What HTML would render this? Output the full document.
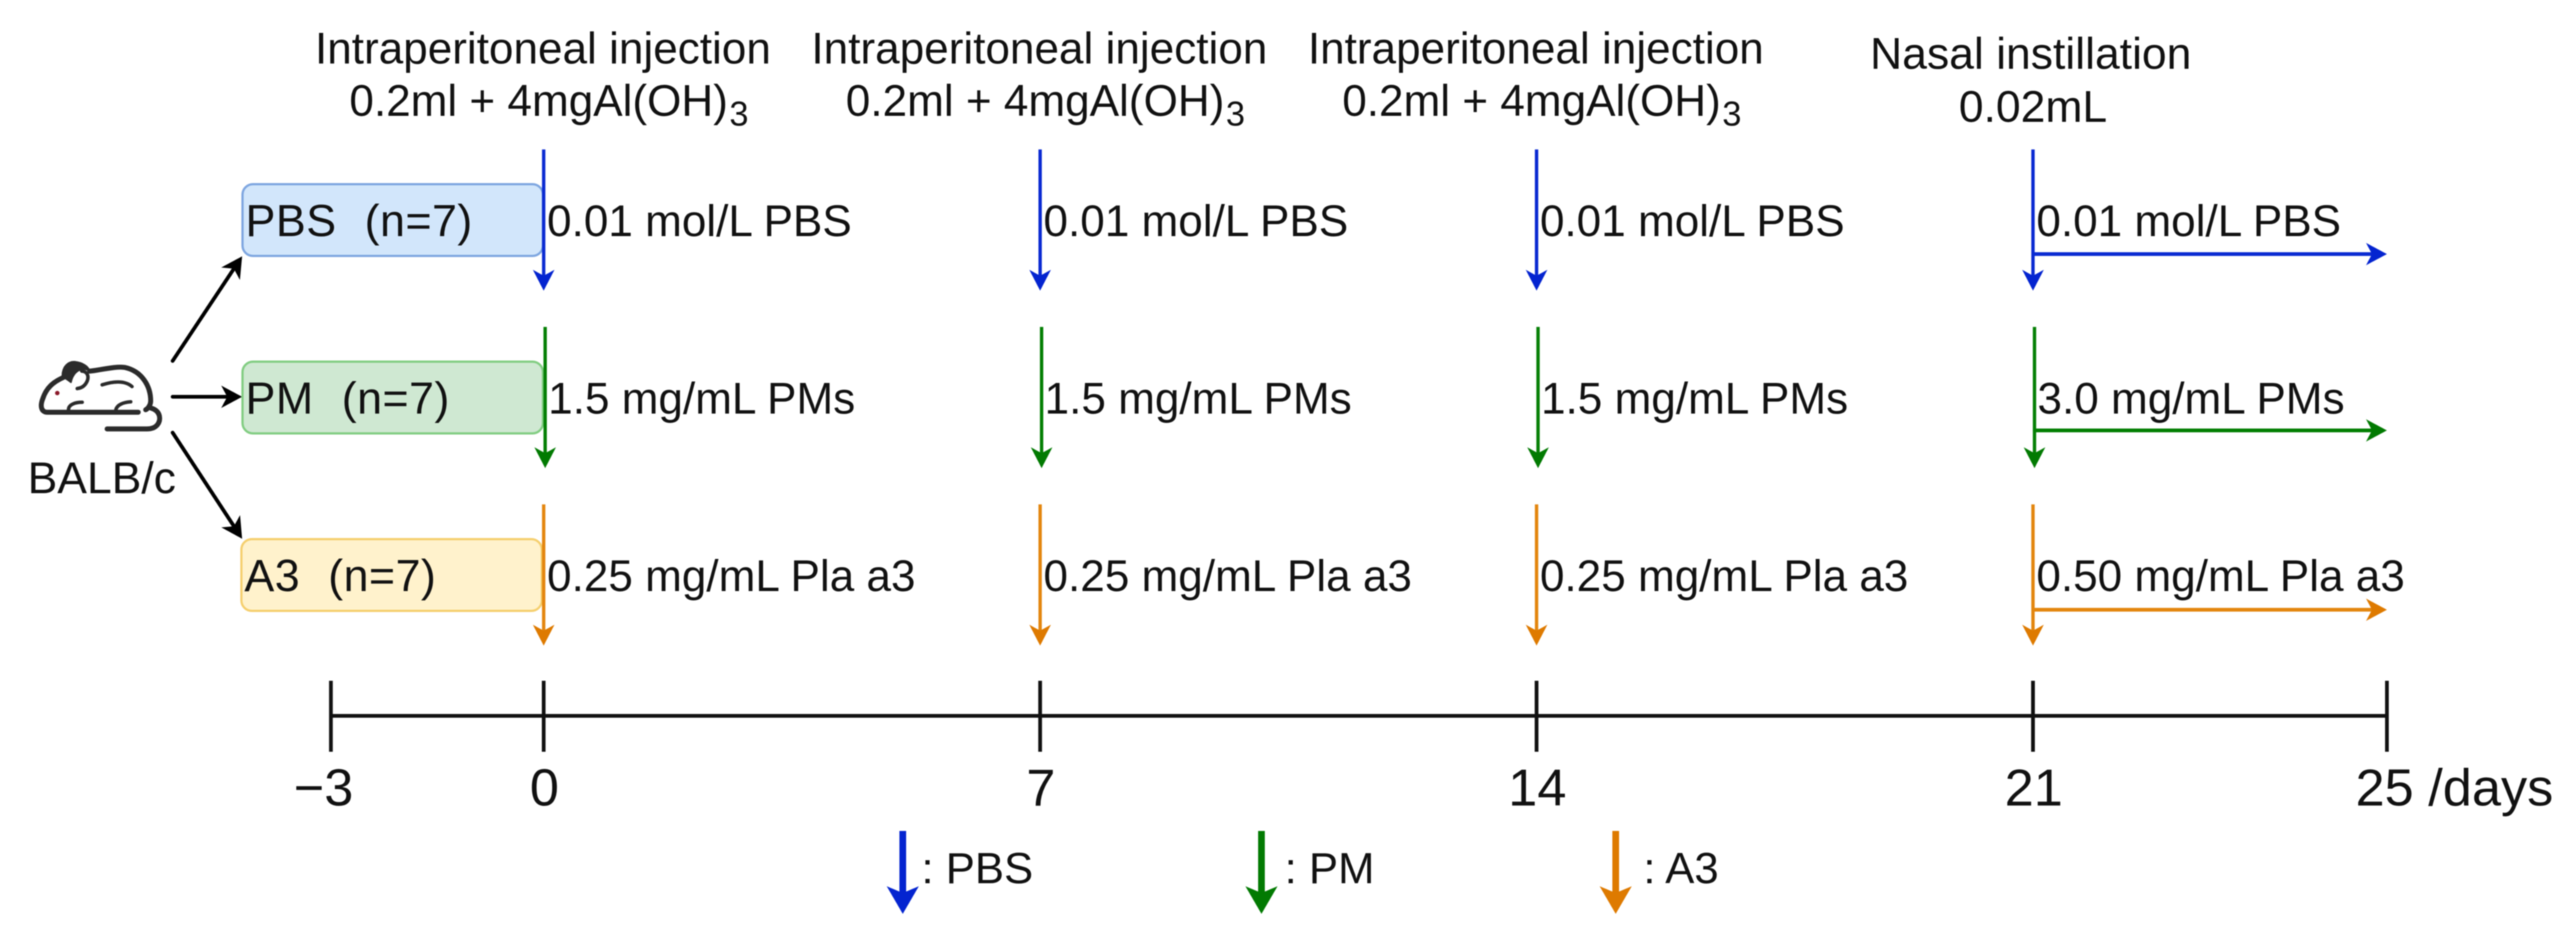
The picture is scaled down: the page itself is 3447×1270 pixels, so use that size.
<!DOCTYPE html>
<html lang="en">
<head>
<meta charset="utf-8">
<title>Experimental timeline</title>
<style>
  html, body { margin: 0; padding: 0; background: #fff; }
  svg { display: block; filter: blur(0.7px); }
  text { font-family: "Liberation Sans", Arial, sans-serif; fill: #111; white-space: pre; }
</style>
</head>
<body>
<svg id="chart" xmlns="http://www.w3.org/2000/svg" width="3447" height="1270" viewBox="0 0 3447 1270">
  <rect width="3447" height="1270" fill="#ffffff"/>

  <g transform="translate(20,440) scale(0.3333)" fill="none" stroke="#2b2b2b" stroke-width="20" stroke-linecap="round" stroke-linejoin="round">
    <path d="M495 335 L130 335 C105 335 100 310 112 280 C125 240 150 215 195 195"/>
    <path d="M300 170 C350 165 400 150 440 155 C510 170 545 230 545 290 C545 305 535 320 525 325"/>
    <path d="M370 402 L530 402 C570 402 585 375 580 350 C575 330 560 322 545 318"/>
    <path d="M190 190 C190 150 215 130 240 132 C270 135 295 150 300 170 C270 150 235 170 225 215 C205 200 195 195 190 190 Z" fill="#2b2b2b" stroke-width="6"/>
    <path d="M268 170 C290 170 298 190 290 210 C282 228 268 238 250 240" stroke-width="14"/>
    <path d="M350 225 C390 212 440 205 470 232" stroke-width="14"/>
    <path d="M215 325 C215 305 240 295 270 295" stroke-width="14"/>
    <path d="M405 325 C410 305 435 295 465 293" stroke-width="14"/>
    <circle cx="170" cy="258" r="9" fill="#8b1a2a" stroke="none"/>
  </g>
  <text x="37" y="660" font-size="59.5">BALB/c</text>
</svg>

<script>
// Timeline data
const timelineDays = [-3, 0, 7, 14, 21, 25];
const tickLabels = ['\u22123', '0', '7', '14', '21', '25 /days'];
const doseDays = [0, 7, 14, 21];
const groupNames = ['PBS  (n=7)', 'PM  (n=7)', 'A3  (n=7)'];
const legendNames = [': PBS', ': PM', ': A3'];
const groupKeys = ['pbs', 'pm', 'a3'];
const pbsDoses = ['0.01 mol/L PBS', '0.01 mol/L PBS', '0.01 mol/L PBS', '0.01 mol/L PBS'];
const pmDoses = ['1.5 mg/mL PMs', '1.5 mg/mL PMs', '1.5 mg/mL PMs', '3.0 mg/mL PMs'];
const a3Doses = ['0.25 mg/mL Pla a3', '0.25 mg/mL Pla a3', '0.25 mg/mL Pla a3', '0.50 mg/mL Pla a3'];
const groupDoses = [pbsDoses, pmDoses, a3Doses];
const routeLines = ['Intraperitoneal injection', 'Intraperitoneal injection', 'Intraperitoneal injection', 'Nasal instillation'];
const amountLines = ['0.2ml + 4mgAl(OH)', '0.2ml + 4mgAl(OH)', '0.2ml + 4mgAl(OH)', '0.02mL'];

// Axis functions (day 25 sits on a compressed, non-linear final segment)
function xDay(d) {
  return d <= 21 ? 727.5 + 94.9 * d : 727.5 + 94.9 * 21 + (d - 21) * 118.4;
}
function rowTop(i) { return 200 + 237.5 * i; }

const NS = 'http://www.w3.org/2000/svg';
const svg = document.getElementById('chart');
const strokeColors = ['#0a2ad2', '#047f04', '#e3860f'];
const headColors = ['#0424d0', '#027a02', '#de7a00'];
const fillColors = ['#d2e6fb', '#cfe8d2', '#fff2cc'];
const edgeColors = ['#7ea6e0', '#82cd82', '#f5cf6e'];

function make(tag, attrs, parent) {
  const el = document.createElementNS(NS, tag);
  for (const k in attrs) el.setAttribute(k, attrs[k]);
  (parent || svg).appendChild(el);
  return el;
}
function downHead(x, y, w, h, n, color, parent) {
  return make('path', { d: `M${x} ${y} L${x - w} ${y - h} L${x} ${y - n} L${x + w} ${y - h} Z`, fill: color }, parent);
}
function rightHead(x, y, color, parent) {
  return make('path', { d: `M${x} ${y} L${x - 28} ${y - 15} L${x - 20} ${y} L${x - 28} ${y + 15} Z`, fill: color }, parent);
}

// Black arrows from mouse to group boxes
const fanTargetsCount = groupNames.length;
for (let i = 0; i < fanTargetsCount; i++) {
  const g = make('g', {});
  
  
  const startY = 483 + 48 * i;
  const endY = i === 0 ? 343 : (i === 1 ? 531 : 721);
  const x0 = 231, x1 = 324;
  const ang = Math.atan2(endY - startY, x1 - x0);
  const bx = x1 - 20 * Math.cos(ang), by = endY - 20 * Math.sin(ang);
  make('line', { x1: x0, y1: startY, x2: bx, y2: by, stroke: '#000', 'stroke-width': 5, 'stroke-linecap': 'round' }, g);
  const wx = 28 * Math.cos(ang), wy = 28 * Math.sin(ang);
  const px = 15 * -Math.sin(ang), py = 15 * Math.cos(ang);
  make('path', { d: `M${x1} ${endY} L${x1 - wx + px} ${endY - wy + py} L${bx} ${by} L${x1 - wx - px} ${endY - wy - py} Z`, fill: '#000' }, g);
}

// Group boxes
groupNames.forEach((name, i) => {
  const top = rowTop(i) + 46.5;
  const rect = make('rect', { x: i === 2 ? 323 : 324.5, y: top, width: 402, height: 96, rx: 14, ry: 14, fill: fillColors[i], stroke: edgeColors[i], 'stroke-width': 3 });
  
  
  const label = make('text', { x: i === 2 ? 327 : 328.5, y: rowTop(i) + 116, 'font-size': 60, 'word-spacing': 1.5, 'letter-spacing': 0.6 });
  label.textContent = name;
  
  
});

// Dose arrows and dose labels
groupDoses.forEach((doses, i) => {
  doseDays.forEach((day, j) => {
    const x = xDay(day) + (i === 1 ? 2 : 0);
    const top = rowTop(i);
    const tip = top + 189;
    const line = make('line', { x1: x, y1: top, x2: x, y2: tip - 18, stroke: strokeColors[i], 'stroke-width': 4.5 });
    
    
    const head = downHead(x, tip, 14.5, 28, 20, headColors[i]);
    
    
    const text = make('text', { x: xDay(day) + (i === 1 ? 6 : 4.5), y: top + 116, 'font-size': 59 });
    text.textContent = doses[j];
    
    
  });
  // Continuation arrow from day 21 to day 25
  const y = rowTop(0) + [140, 376, 616][i];
  const hl = make('line', { x1: xDay(21), y1: y, x2: xDay(25) - 18, y2: y, stroke: strokeColors[i], 'stroke-width': 5 });
  
  
  const hh = rightHead(xDay(25), y, headColors[i]);
  
  
});

// Headers
doseDays.forEach((day, j) => {
  const x = xDay(day);
  const nasal = day === 21;
  const route = make('text', { x: x - (nasal ? 3 : 1), y: nasal ? 92 : 85, 'font-size': nasal ? 59.5 : 59, 'text-anchor': 'middle' });
  route.textContent = routeLines[j];
  
  
  const amount = make('text', nasal
    ? { x: x, y: 163, 'font-size': 59.5, 'text-anchor': 'middle' }
    : { x: x - 260, y: 155, 'font-size': 59 });
  amount.textContent = amountLines[j];
  
  
  if (!nasal) {
    const sub = make('tspan', { dy: 13, dx: 2, 'font-size': 46 }, amount);
    sub.textContent = '3';
  }
});

// Axis line, ticks, tick labels
const axisY = 958;
const axis = make('line', { x1: xDay(-3), y1: axisY, x2: xDay(25), y2: axisY, stroke: '#111', 'stroke-width': 5 });


timelineDays.forEach((day, k) => {
  const x = xDay(day);
  const tick = make('line', { x1: x, y1: 911, x2: x, y2: 1006, stroke: '#111', 'stroke-width': 5 });
  
  
  let attrs;
  if (day === 25) attrs = { x: x - 42, y: 1078, 'font-size': 70 };
  else if (day === -3) attrs = { x: x + 30, y: 1078, 'font-size': 70, 'text-anchor': 'end' };
  else attrs = { x: x + 1, y: 1078, 'font-size': 70, 'text-anchor': 'middle' };
  const lab = make('text', attrs);
  lab.textContent = tickLabels[k];
  
  
});

// Legend
legendNames.forEach((name, i) => {
  const x = 1208 + 480 * i - 6 * Math.max(0, i - 1);
  const g = make('g', {});
  
  
  make('line', { x1: x, y1: 1112, x2: x, y2: 1200, stroke: headColors[i], 'stroke-width': 9 }, g);
  downHead(x, 1223, 21.5, 37, 28, headColors[i], g);
  const t = make('text', { x: x + 25 + 6 * i, y: 1182, 'font-size': 58.5 }, g);
  t.textContent = name;
});
</script>
</body>
</html>
